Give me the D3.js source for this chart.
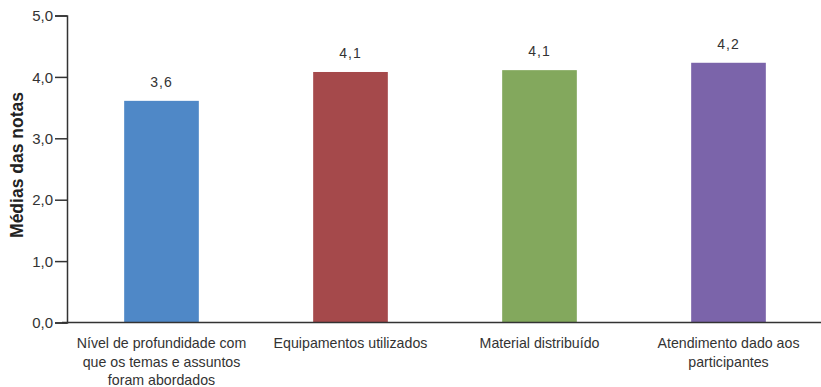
<!DOCTYPE html>
<html><head><meta charset="utf-8">
<script src="https://cdn.jsdelivr.net/npm/d3@7"></script>
<style>body{margin:0;background:#fff}svg{display:block}</style>
</head><body>
<svg id="c" width="821" height="387"></svg>
<script>
const categories = [
  ["Nível de profundidade com","que os temas e assuntos","foram abordados"],
  ["Equipamentos utilizados"],
  ["Material distribuído"],
  ["Atendimento dado aos","participantes"]
];
const values = [3.61, 4.08, 4.11, 4.23];
const valueLabels = ["3,6","4,1","4,1","4,2"];
const colors = ["#4F88C7","#A5494B","#83A85D","#7B64AA"];
const yTicks = [0,1,2,3,4,5];

const font = "Arial, 'Liberation Sans', sans-serif";
const svg = d3.select("#c");
const x = d3.scaleBand().domain(d3.range(values.length)).range([67, 823]).paddingInner(0.605).paddingOuter(0.3025);
const y = d3.scaleLinear().domain([0,5]).range([322.5, 15.5]);

// bars
svg.selectAll("rect.bar").data(values).join("rect")
  .attr("x",(d,i)=>x(i)).attr("width",x.bandwidth())
  .attr("y",d=>y(d)).attr("height",d=>y(0)-y(d))
  .attr("fill",(d,i)=>colors[i]);

// value labels
svg.selectAll("text.val").data(values).join("text")
  .attr("x",(d,i)=>x(i)+x.bandwidth()/2).attr("y",d=>y(d)-14)
  .attr("text-anchor","middle").attr("font-family",font)
  .attr("font-size",14).attr("letter-spacing","1px").attr("fill","#333")
  .text((d,i)=>valueLabels[i]);

// y axis
const yAxis = d3.axisLeft(y).tickValues(yTicks).tickSize(12).tickFormat(d=>d3.format(".1f")(d).replace(".",","));
const ga = svg.append("g").attr("transform","translate(67,0)").call(yAxis);
ga.select(".domain").attr("stroke","#333").attr("stroke-width",1.5);
ga.selectAll(".tick line").attr("stroke","#333").attr("stroke-width",1.5);
ga.selectAll(".tick text").attr("font-family",font).attr("font-size",15).attr("fill","#333").attr("x",-14).attr("dy","0.35em");

// x baseline
svg.append("line").attr("x1",62).attr("x2",821).attr("y1",y(0)).attr("y2",y(0)).attr("stroke","#333").attr("stroke-width",1.5);

// category labels
categories.forEach((lines,i)=>{
  const t = svg.append("text").attr("text-anchor","middle")
    .attr("font-family",font).attr("font-size",14.2).attr("fill","#333");
  lines.forEach((l,j)=>{
    t.append("tspan").attr("x",x(i)+x.bandwidth()/2).attr("y",348+j*18.7).text(l);
  });
});

// y title
svg.append("text").attr("transform","translate(23,165) rotate(-90)").attr("text-anchor","middle")
  .attr("font-family",font).attr("font-weight","bold").attr("font-size",17.5).attr("fill","#222")
  .text("Médias das notas");
</script>
</body></html>
